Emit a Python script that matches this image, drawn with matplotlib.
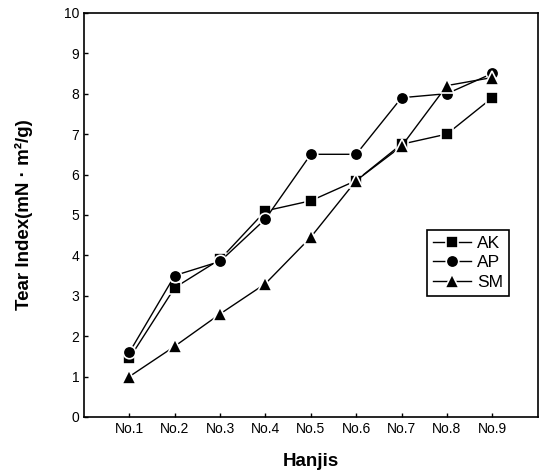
import matplotlib
matplotlib.use("Agg")
from matplotlib import pyplot as plt

hanjis = ["No.1", "No.2", "No.3", "No.4", "No.5", "No.6", "No.7", "No.8", "No.9"]
ak = [1.45, 3.2, 3.9, 5.1, 5.35, 5.85, 6.75, 7.0, 7.9]
ap = [1.6, 3.5, 3.85, 4.9, 6.5, 6.5, 7.9, 8.0, 8.5]
sm = [1.0, 1.75, 2.55, 3.3, 4.45, 5.85, 6.7, 8.2, 8.4]

plt.rcParams['font.family'] = ['Liberation Sans', 'DejaVu Sans']

fig = plt.figure(figsize=(5.4, 4.76), dpi=100)
ax = fig.add_axes([0.1556, 0.124, 0.84, 0.849])

x = list(range(1, len(hanjis) + 1))
style = dict(color='black', linewidth=1.0, markeredgecolor='white', markeredgewidth=1.2)
ax.plot(x, ak, marker='s', markersize=8, label='AK', **style)
ax.plot(x, ap, marker='o', markersize=9, label='AP', **style)
ax.plot(x, sm, marker='^', markersize=10, label='SM', **style)

ax.set_xlim(0, 10)
ax.set_ylim(0, 10)
ax.set_xticks(x)
ax.set_xticklabels(hanjis)
ax.set_yticks(range(0, 11))
ax.tick_params(direction='in', length=3, labelsize=10, width=1)
for s in ax.spines.values():
    s.set_linewidth(1.2)

ax.set_xlabel("Hanjis", fontsize=13.5, fontweight='bold', labelpad=12)
ax.set_ylabel("Tear Index(mN · m²/g)", fontsize=13.5, fontweight='bold', labelpad=22)

leg = ax.legend(loc='upper left', bbox_to_anchor=(0.737, 0.485), fontsize=12.5,
                fancybox=False, framealpha=1, edgecolor='black',
                handlelength=2.2, borderpad=0.35, labelspacing=0.25, handletextpad=0.35)
leg.get_frame().set_linewidth(1.2)

fig.savefig("out.png", dpi=100)
